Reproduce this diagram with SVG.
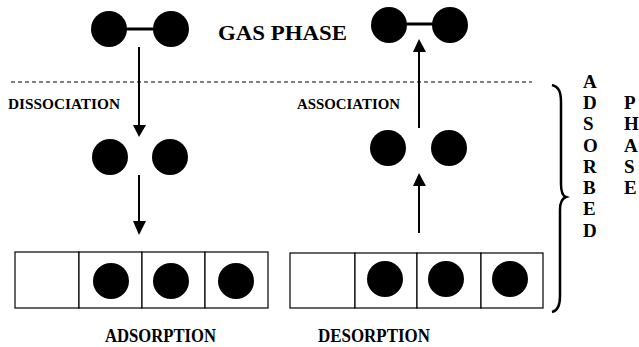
<svg xmlns="http://www.w3.org/2000/svg" width="639" height="347" viewBox="0 0 639 347">
<style>
.t{font-family:"Liberation Serif","Times New Roman",serif;font-weight:bold;fill:#000}
.ab{font-size:19px}
.atom{fill:#000}
.bond{stroke:#000;stroke-width:3}
.cell{fill:#fff;stroke:#000;stroke-width:1.2}
.arr{stroke:#000;stroke-width:2;fill:none}
.head{fill:#000}
</style>
<rect width="639" height="347" fill="#fff"/>
<line x1="11" y1="82" x2="532" y2="82" stroke="#000" stroke-width="1" stroke-dasharray="4 3"/>
<g id="gas-phase-label"><text class="t" x="218" y="40" font-size="21" textLength="129" lengthAdjust="spacingAndGlyphs">GAS PHASE</text></g>
<g id="molecule-left">
<line class="bond" x1="125" y1="29" x2="155" y2="29"/>
<circle class="atom" cx="109" cy="29" r="18"/>
<circle class="atom" cx="171" cy="29" r="18"/>
</g>
<g id="molecule-right">
<line class="bond" x1="405" y1="24" x2="435" y2="24"/>
<circle class="atom" cx="389" cy="25" r="18"/>
<circle class="atom" cx="450" cy="25" r="18"/>
</g>
<g id="atoms-left">
<circle class="atom" cx="110" cy="157" r="18"/>
<circle class="atom" cx="170" cy="157" r="18"/>
</g>
<g id="atoms-right">
<circle class="atom" cx="388" cy="148" r="18"/>
<circle class="atom" cx="449" cy="148" r="18"/>
</g>
<g id="surface-left">
<rect class="cell" x="15" y="252" width="64" height="56"/>
<rect class="cell" x="79" y="252" width="63" height="56"/>
<rect class="cell" x="142" y="252" width="63" height="56"/>
<rect class="cell" x="205" y="252" width="63" height="56"/>
<circle class="atom" cx="111" cy="281" r="18"/>
<circle class="atom" cx="171" cy="281" r="18"/>
<circle class="atom" cx="236" cy="281" r="18"/>
</g>
<g id="surface-right">
<rect class="cell" x="290" y="253" width="65" height="55"/>
<rect class="cell" x="355" y="253" width="62" height="55"/>
<rect class="cell" x="417" y="253" width="64" height="55"/>
<rect class="cell" x="481" y="253" width="62" height="55"/>
<circle class="atom" cx="385" cy="279" r="18"/>
<circle class="atom" cx="446" cy="279" r="18"/>
<circle class="atom" cx="510" cy="279" r="18"/>
</g>
<g id="connectors">
<line class="arr" x1="139" y1="47" x2="139" y2="126"/>
<polygon class="head" points="133,125 146,125 139,137"/>
<line class="arr" x1="139" y1="175" x2="139" y2="222"/>
<polygon class="head" points="133,221 146,221 139,235"/>
<line class="arr" x1="419" y1="128" x2="419" y2="51"/>
<polygon class="head" points="413,52 426,52 419,39"/>
<line class="arr" x1="419" y1="233" x2="419" y2="185"/>
<polygon class="head" points="413,186 426,186 419,173"/>
</g>
<g id="labels">
<text class="t" x="8" y="109" font-size="14" textLength="112" lengthAdjust="spacingAndGlyphs">DISSOCIATION</text>
<text class="t" x="297" y="109" font-size="14" textLength="103" lengthAdjust="spacingAndGlyphs">ASSOCIATION</text>
<text class="t" x="105" y="342" font-size="19" textLength="111" lengthAdjust="spacingAndGlyphs">ADSORPTION</text>
<text class="t" x="318" y="342" font-size="19" textLength="112" lengthAdjust="spacingAndGlyphs">DESORPTION</text>
</g>
<g id="brace">
<path d="M552,85 C559,87 561,92 561,102 L561,184 C561,192 563,196 566,197 C563,198 560,202 560,210 L560,296 C560,306 557,311 552,312" fill="none" stroke="#000" stroke-width="2.5"/>
</g>
<g id="adsorbed-phase-label">
<text class="t ab" x="583" y="88">A</text>
<text class="t ab" x="583" y="109">D</text>
<text class="t ab" x="583" y="130">S</text>
<text class="t ab" x="583" y="152">O</text>
<text class="t ab" x="583" y="173">R</text>
<text class="t ab" x="583" y="194">B</text>
<text class="t ab" x="583" y="215">E</text>
<text class="t ab" x="583" y="237">D</text>
<text class="t ab" x="624" y="109">P</text>
<text class="t ab" x="624" y="130">H</text>
<text class="t ab" x="624" y="152">A</text>
<text class="t ab" x="624" y="173">S</text>
<text class="t ab" x="624" y="194">E</text>
</g>
</svg>
